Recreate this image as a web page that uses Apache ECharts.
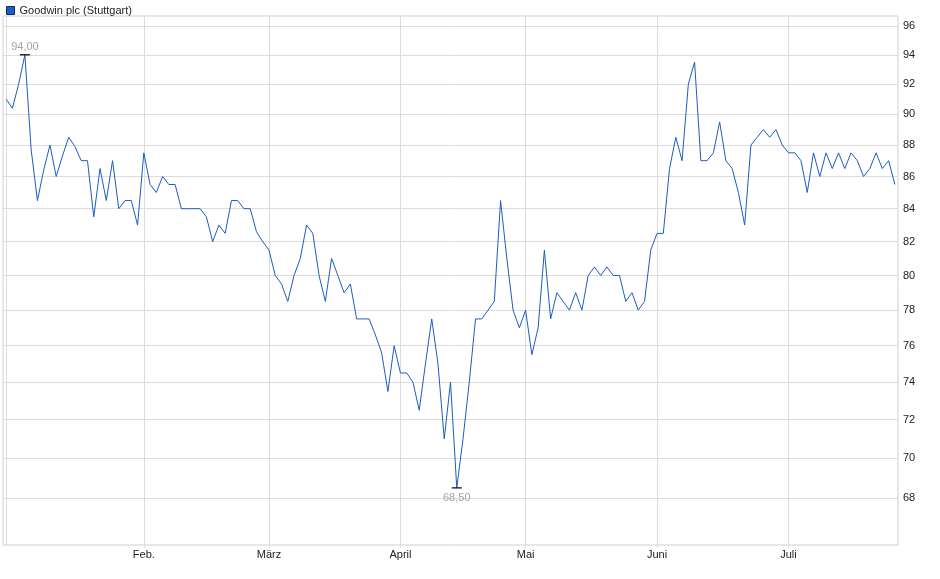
<!DOCTYPE html>
<html><head><meta charset="utf-8">
<script src="https://cdn.jsdelivr.net/npm/echarts@6/dist/echarts.min.js"></script>
<style>html,body{margin:0;padding:0;background:#fff}#c{width:940px;height:579px}</style>
</head><body><div id="c"></div>
<script>
const seriesName = 'Goodwin plc (Stuttgart)';
const startDate = '2025-01-02';
const endDate = '2025-07-24';
const holidays = ['2025-04-18', '2025-04-21', '2025-05-01'];
const monthLabels = ['', 'Feb.', 'März', 'April', 'Mai', 'Juni', 'Juli'];
const yTicks = [68, 70, 72, 74, 76, 78, 80, 82, 84, 86, 88, 90, 92, 94, 96];
const yMin = 65.7, yMax = 96.7;
const prices = [
  91.0, 90.4, 92.0, 94.0, 87.7, 84.5, 86.4, 88.0, 86.0, 87.3,
  88.5, 87.9, 87.0, 87.0, 83.5, 86.5, 84.5, 87.0, 84.0, 84.5,
  84.5, 83.0, 87.5, 85.5, 85.0, 86.0, 85.5, 85.5, 84.0, 84.0,
  84.0, 84.0, 83.5, 82.0, 83.0, 82.5, 84.5, 84.5, 84.0, 84.0,
  82.6, 82.0, 81.5, 80.0, 79.5, 78.5, 80.0, 81.0, 83.0, 82.5,
  80.0, 78.5, 81.0, 80.0, 79.0, 79.5, 77.5, 77.5, 77.5, 76.6,
  75.6, 73.5, 76.0, 74.5, 74.5, 74.0, 72.5, 75.0, 77.5, 75.0,
  71.0, 74.0, 68.5, 71.0, 74.0, 77.5, 77.5, 78.0, 78.5, 84.5,
  81.0, 78.0, 77.0, 78.0, 75.5, 77.0, 81.5, 77.5, 79.0, 78.5,
  78.0, 79.0, 78.0, 80.0, 80.5, 80.0, 80.5, 80.0, 80.0, 78.5,
  79.0, 78.0, 78.5, 81.5, 82.5, 82.5, 86.5, 88.5, 87.0, 92.0,
  93.5, 87.0, 87.0, 87.5, 89.5, 87.0, 86.5, 85.0, 83.0, 88.0,
  88.5, 89.0, 88.5, 89.0, 88.0, 87.5, 87.5, 87.0, 85.0, 87.5,
  86.0, 87.5, 86.5, 87.5, 86.5, 87.5, 87.0, 86.0, 86.5, 87.5,
  86.5, 87.0, 85.5
];

function buildDates() {
  const out = [];
  const d = new Date(startDate + 'T00:00:00Z');
  const end = new Date(endDate + 'T00:00:00Z');
  while (d <= end) {
    const s = d.toISOString().slice(0, 10);
    const wd = d.getUTCDay();
    if (wd !== 0 && wd !== 6 && holidays.indexOf(s) < 0) out.push(s);
    d.setUTCDate(d.getUTCDate() + 1);
  }
  return out;
}
const dates = buildDates();
const monthStart = dates.map((s, i) => i === 0 || s.slice(5, 7) !== dates[i - 1].slice(5, 7));
const monthStartDates = dates.filter((s, i) => monthStart[i]);

const font = 'Liberation Sans, Arial, sans-serif';
const gridColor = '#dcdcdc';
const chart = echarts.init(document.getElementById('c'));
chart.setOption({
  animation: false,
  textStyle: { fontFamily: font },
  legend: {
    left: 1, top: 0,
    icon: 'rect', itemWidth: 8, itemHeight: 8, itemGap: 6,
    textStyle: { fontSize: 11, color: '#222', fontFamily: font },
    data: [{ name: seriesName, itemStyle: { color: '#1c5cc4', borderColor: '#0d2a66', borderWidth: 1 } }]
  },
  grid: {
    left: 3, right: 42, top: 16, bottom: 34,
    show: true, borderColor: '#cfcfcf', borderWidth: 1, backgroundColor: '#fff'
  },
  xAxis: {
    type: 'category',
    data: dates,
    boundaryGap: true,
    axisLine: { show: false },
    axisTick: {
      show: true, alignWithLabel: true, length: 3,
      interval: (i) => monthStart[i] && i > 0,
      lineStyle: { color: gridColor }
    },
    splitLine: { show: false },
    axisLabel: {
      interval: (i) => monthStart[i] && i > 0,
      formatter: (v) => monthLabels[parseInt(v.slice(5, 7), 10) - 1],
      fontSize: 11, color: '#222', margin: 4, fontFamily: font
    }
  },
  yAxis: {
    type: 'log',
    logBase: 10,
    min: yMin, max: yMax,
    position: 'right',
    axisLine: { show: false },
    axisTick: { show: false },
    axisLabel: { show: false },
    splitLine: { show: false }
  },
  series: [
    {
      name: 'grid',
      type: 'line',
      data: [],
      z: 1,
      silent: true,
      markLine: {
        z: 1,
        silent: true,
        symbol: 'none',
        animation: false,
        lineStyle: { color: gridColor, width: 1, type: 'solid' },
        label: { show: false },
        data: monthStartDates.map(s => ({ xAxis: s, label: { show: false } })).concat(
          yTicks.map(v => ({
            yAxis: v,
            label: {
              show: true, position: 'end', distance: 5,
              formatter: String(v), color: '#222', fontSize: 11, fontFamily: font
            }
          }))
        )
      }
    },
    {
      name: seriesName,
      type: 'line',
      data: prices,
      z: 4,
      symbol: 'none',
      color: '#1c5cc4',
      lineStyle: { color: '#1c5cc4', width: 1 },
      markPoint: {
        z: 6,
        silent: true,
        animation: false,
        symbol: 'rect',
        symbolSize: [10, 1.3],
        itemStyle: { color: '#111' },
        label: {
          color: '#aaa298', fontSize: 11, fontFamily: font,
          formatter: (p) => p.value.toFixed(2).replace('.', ',')
        },
        data: [
          { type: 'max', label: { position: 'top', distance: 2 } },
          { type: 'min', label: { position: 'bottom', distance: 4 } }
        ]
      }
    }
  ]
});
</script>
</body></html>
